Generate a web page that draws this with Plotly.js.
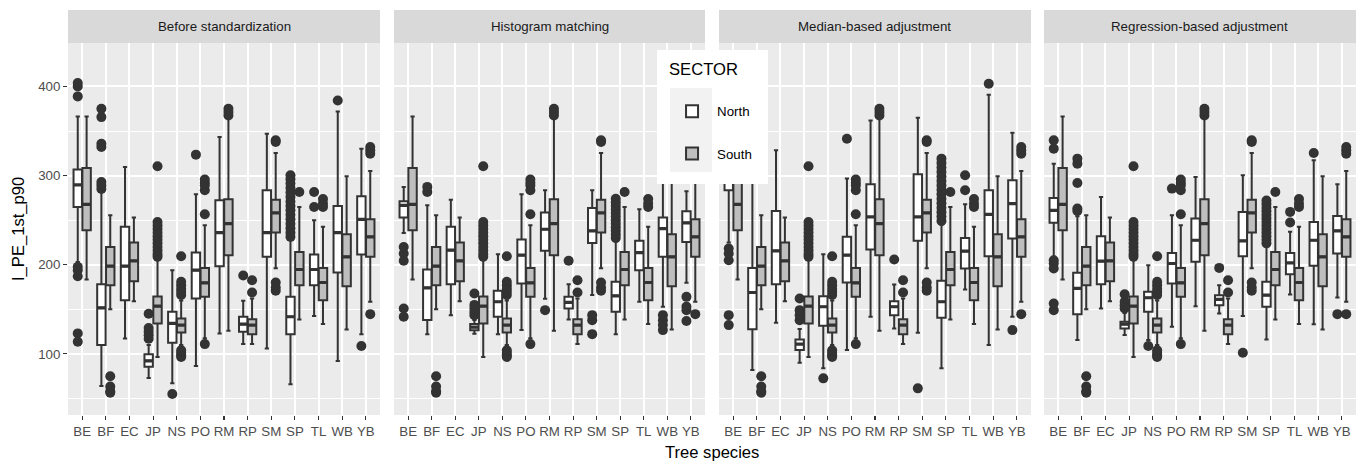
<!DOCTYPE html>
<html>
<head>
<meta charset="utf-8">
<script src="https://cdn.plot.ly/plotly-3.0.1.min.js"></script>
<style>html,body{margin:0;padding:0;background:#fff;}#chart{width:1362px;height:464px;}</style>
</head>
<body>
<div id="chart"></div>
<script>
// ---------------- data ----------------
const species = ['BE','BF','EC','JP','NS','PO','RM','RP','SM','SP','TL','WB','YB'];
const methods = ['Before standardization','Histogram matching','Median-based adjustment','Regression-based adjustment'];
const sectors = ['North','South'];

// South (reference sector, identical in every panel)
const southLow = [183.5,150,159,96.5,110,117.5,126,111,196,138.5,133.5,127.5,158.5];
const southQ1  = [238.7,177,181.6,134.2,124.1,164,210.7,122.2,236.1,177.1,160.3,176,208.9];
const southMed = [267.8,198.4,204.4,153.5,132.3,179.7,246.2,132.3,258.1,194.7,180.1,208.9,231.3];
const southQ3  = [308.5,220,224.9,164.5,139.8,196.5,273.4,139,273,214.4,196.5,234.2,251];
const southHigh= [366.4,255.5,252.9,205,160,244.3,365,162.2,325.3,264.8,242.5,299.2,305.2];
const southOut = [[],[75,63.5,58,56.5],[],[310.4,248,244,240,236,232,228,224,220,216,212,209],
  [209.6,180.9,177,173,169.7,166,104,101,98.5,96.5],[295.5,292,289,283.5,256.6,111],[375,371.2,367.5],
  [182.7,168.9],[339.5,337.6,180.1,174.5,170.8],[281.6],[273.8,268.6,264.8],[],[332,328.3,324.6,144.6]];

// North - Before standardization
const beforeLow = [203,64,117.4,73,67,86.4,123,111,106.2,66,142.4,92,122.2];
const beforeQ1  = [264.8,110,160.3,85.7,112.5,162.2,198.4,124.9,208.9,122.2,177.1,191.3,211.5];
const beforeMed = [289.5,151.7,198.4,92.3,134.2,193.9,236.1,133.4,236.1,141.7,194.7,236.1,251];
const beforeQ3  = [306.7,178.2,242.5,99.5,147.2,213.7,272.3,141.7,283.5,164,211.5,266,276.8];
const beforeHigh= [366.4,281.6,309.6,110,193.9,279,343.2,159.6,347,228,250,372,330.2];
const beforeOut = [[403.7,400,388.8,197.6,193.9,187.2,123,113.7],[375,365.6,335.8,332,292.8,289,285],[],
  [145,129,125,121,117],[55.1],[323.5],[],[188],[],
  [300.3,296,291,286,281,276,271,266,261,256,251,246,241,236,231.3],[281.6,264.8],[384.3],[108.8]];

// North - Histogram matching
const histLow = [235.7,122.2,143.5,122.5,122.2,126.7,162,138.7,166,122.2,158.5,152.8,179.7];
const histQ1  = [252.9,138,178.2,126.5,141.7,179,215.6,151,224.5,147.2,193.9,208.9,225.6];
const histMed = [266.7,174.1,216.3,130,158.5,210.7,239.8,157.7,238,165.2,213.7,240.6,247];
const histQ3  = [271.2,194.7,242.5,133.5,170.8,228.3,258.5,164,263.7,180.9,226.8,252.9,260];
const histHigh= [287.3,266.7,273,138,211.8,279,283.5,178.2,283.5,226,262.2,340,282.4];
const histOut = [[220,212.6,204.4,151,141.7],[287.3,281.6],[],[167.8,155,151,147,143.5],[],[],[149.1],[204.4],
  [143.5,137.9,122.2],[274,270,266,262,258,254,250,246,242,238,234,230],[],[143.5,137.9,132.3,126.7],[164,153,149,137]];

// North - Median-based adjustment
const medLow = [225,82,135,90.1,83.8,104.3,141.7,128.6,123.7,83.8,172.3,109.9,141.7];
const medQ1  = [283.5,127.8,178.2,104.3,131.6,180.1,217.1,143.5,226.8,140.5,195.8,209.6,229.4];
const medMed = [305,168.9,215.6,111,152.9,210.7,253.6,152.9,253.6,158.5,215.2,256.6,268.6];
const medQ3  = [325,196.5,260.4,116.3,164.8,231.3,290.2,159.2,301.4,182,230.1,283.5,294.7];
const medHigh= [385,300,328.3,128,211.8,296.6,361.9,177.9,364.9,245,267.8,390.7,348.1];
const medOut = [[428,218.2,212.6,205,143.5,132.3],[],[],[162.2,149.1,143.5,137.9],[72.6],[341.4],[],[205.9],[61.4],
  [319,314,309,304,299,294,289,284,279,274,269,264,259,254,249],[300.3,283.5],[403],[126.7]];

// North - Regression-based adjustment
const regLow = [208.9,115.5,151,121.1,115.5,130.5,153.6,145.4,142.4,116.3,166.7,133.4,163.3];
const regQ1  = [247,144.6,178.2,128.6,147.2,179,203.3,154.7,209.6,152.9,189.4,198.8,212.6];
const regMed = [261.1,173.4,204,133.4,163,201.4,227.5,161.1,226.8,165.9,202.1,227.5,238];
const regQ3  = [274.9,190.9,232,136,169.7,213.3,251.8,165.9,259.3,180.9,213.3,248,254.8];
const regHigh= [313.4,254.4,276,146,199.5,255.5,298.4,177.1,300.3,221,236.9,317.1,290.2];
const regOut = [[339.5,330.2,205.1,201.4,195.8,156.6,149.1],[319,313.4,291.7,263,260.4],[],[167,158.5,154.7,151],
  [108.8],[285.4],[],[196.5],[101.3],[272,268,264,260,256,252,248,244,240,236,232,228,224],[259.3,247.3],[325.3],[144.6]];

const yTicks = [100,200,300,400];

// ---------------- build ----------------
const north = [
  {low:beforeLow,q1:beforeQ1,med:beforeMed,q3:beforeQ3,high:beforeHigh,out:beforeOut},
  {low:histLow,q1:histQ1,med:histMed,q3:histQ3,high:histHigh,out:histOut},
  {low:medLow,q1:medQ1,med:medMed,q3:medQ3,high:medHigh,out:medOut},
  {low:regLow,q1:regQ1,med:regMed,q3:regQ3,high:regHigh,out:regOut}
];
const south = {low:southLow,q1:southQ1,med:southMed,q3:southQ3,high:southHigh,out:southOut};

const lineCol = '#333333';
const fills = {North:'#FFFFFF', South:'#BEBEBE'};
const domains = [[0,0.24224],[0.25311,0.49457],[0.50543,0.74767],[0.75776,1]];

// Plotly needs non-empty rows to recognise a 2-D sample array; null draws nothing
const padRows = rows => rows.map(r => r.length ? r.slice() : [null]);

function boxTrace(s, name, i){
  const ax = i===0 ? 'x' : 'x'+(i+1);
  return {
    type:'box', name:name, legendgroup:name, showlegend:i===0,
    xaxis:ax, yaxis:'y',
    alignmentgroup:'panel'+i, offsetgroup:name,
    x:species.slice(), y:padRows(s.out),
    q1:s.q1.slice(), median:s.med.slice(), q3:s.q3.slice(),
    lowerfence:s.low.slice(), upperfence:s.high.slice(),
    boxpoints:'outliers', jitter:0, pointpos:0,
    fillcolor:fills[name],
    line:{color:lineCol, width:2},
    marker:{color:lineCol, size:10, line:{width:0}},
    hoverinfo:'skip'
  };
}

// thicker median bar (ggplot's fattened median), drawn in the same slot as its box
function medianTrace(s, name, i){
  const ax = i===0 ? 'x' : 'x'+(i+1);
  return {
    type:'box', name:name, legendgroup:name, showlegend:false,
    xaxis:ax, yaxis:'y',
    alignmentgroup:'panel'+i, offsetgroup:name,
    x:species.slice(),
    q1:s.med.slice(), median:s.med.slice(), q3:s.med.slice(),
    lowerfence:s.med.slice(), upperfence:s.med.slice(),
    boxpoints:false,
    fillcolor:'rgba(0,0,0,0)',
    line:{color:lineCol, width:3.2},
    hoverinfo:'skip'
  };
}

const traces = [];
methods.forEach((m,i)=>{
  traces.push(boxTrace(north[i],'North',i));
  traces.push(boxTrace(south,'South',i));
});
methods.forEach((m,i)=>{
  traces.push(medianTrace(north[i],'North',i));
  traces.push(medianTrace(south,'South',i));
});

const font = 'Liberation Sans, Arial, Helvetica, sans-serif';
const layout = {
  width:1362, height:464,
  margin:{l:68, r:6, t:43, b:49},
  paper_bgcolor:'#FFFFFF', plot_bgcolor:'#EBEBEB',
  font:{family:font, color:'#4D4D4D'},
  boxmode:'group', boxgap:0.25, boxgroupgap:0.05,
  showlegend:true,
  legend:{x:0.4651, y:0.9731, xanchor:'left', yanchor:'top', bgcolor:'rgba(0,0,0,0)', borderwidth:0,
    font:{size:13.3, color:'#000000', family:font},
    title:{text:'SECTOR<br>\u00A0', font:{size:16.6, color:'#000000', family:font}},
    traceorder:'grouped', tracegroupgap:22, itemwidth:40},
  yaxis:{anchor:'x', range:[31.5,448.7], tickmode:'array', tickvals:yTicks,
    showgrid:true, gridcolor:'#FFFFFF', gridwidth:2, zeroline:false, showline:false,
    ticks:'outside', ticklen:4, tickwidth:1.1, tickcolor:lineCol,
    tickfont:{size:13.3, color:'#4D4D4D', family:font},
    minor:{tickmode:'linear', tick0:0, dtick:50, showgrid:true, gridcolor:'#FFFFFF', gridwidth:1, ticks:''},
    fixedrange:true},
  shapes:[
    // legend background box and key background (ggplot style)
    {type:'rect', xref:'paper', yref:'paper', x0:0.4573, x1:0.5435, y0:0.621, y1:0.9812,
      fillcolor:'#FFFFFF', line:{width:0}, layer:'above'},
    {type:'rect', xref:'paper', yref:'paper', x0:0.4674, x1:0.5, y0:0.6532, y1:0.879,
      fillcolor:'#F2F2F2', line:{width:0}, layer:'above'}
  ],
  annotations:[]
};

domains.forEach((d,i)=>{
  const key = i===0 ? 'xaxis' : 'xaxis'+(i+1);
  layout[key] = {domain:d, anchor:'y', type:'category', categoryorder:'array', categoryarray:species,
    range:[-0.6, species.length-0.4], showgrid:true, gridcolor:'#FFFFFF', gridwidth:2,
    zeroline:false, showline:false, ticks:'outside', ticklen:4, tickwidth:1.1, tickcolor:lineCol,
    tickfont:{size:13.3, color:'#4D4D4D', family:font}, fixedrange:true};
  layout.shapes.push({type:'rect', xref:'paper', yref:'paper', x0:d[0], x1:d[1], y0:1, y1:1.0887,
    fillcolor:'#D9D9D9', line:{width:0}, layer:'below'});
  layout.annotations.push({text:methods[i], xref:'paper', yref:'paper', x:(d[0]+d[1])/2, y:1.0444,
    xanchor:'center', yanchor:'middle', showarrow:false, font:{size:13.3, color:'#1A1A1A', family:font}});
});

layout.annotations.push({text:'Tree species', xref:'paper', yref:'paper', x:0.5, y:-0.102,
  xanchor:'center', yanchor:'middle', showarrow:false, font:{size:16.6, color:'#000000', family:font}});
layout.annotations.push({text:'I_PE_1st_p90', xref:'paper', yref:'paper', x:-0.0388, y:0.5, textangle:-90,
  xanchor:'center', yanchor:'middle', showarrow:false, font:{size:16.6, color:'#000000', family:font}});

Plotly.newPlot('chart', traces, layout, {displayModeBar:false, staticPlot:true});
</script>
</body>
</html>
